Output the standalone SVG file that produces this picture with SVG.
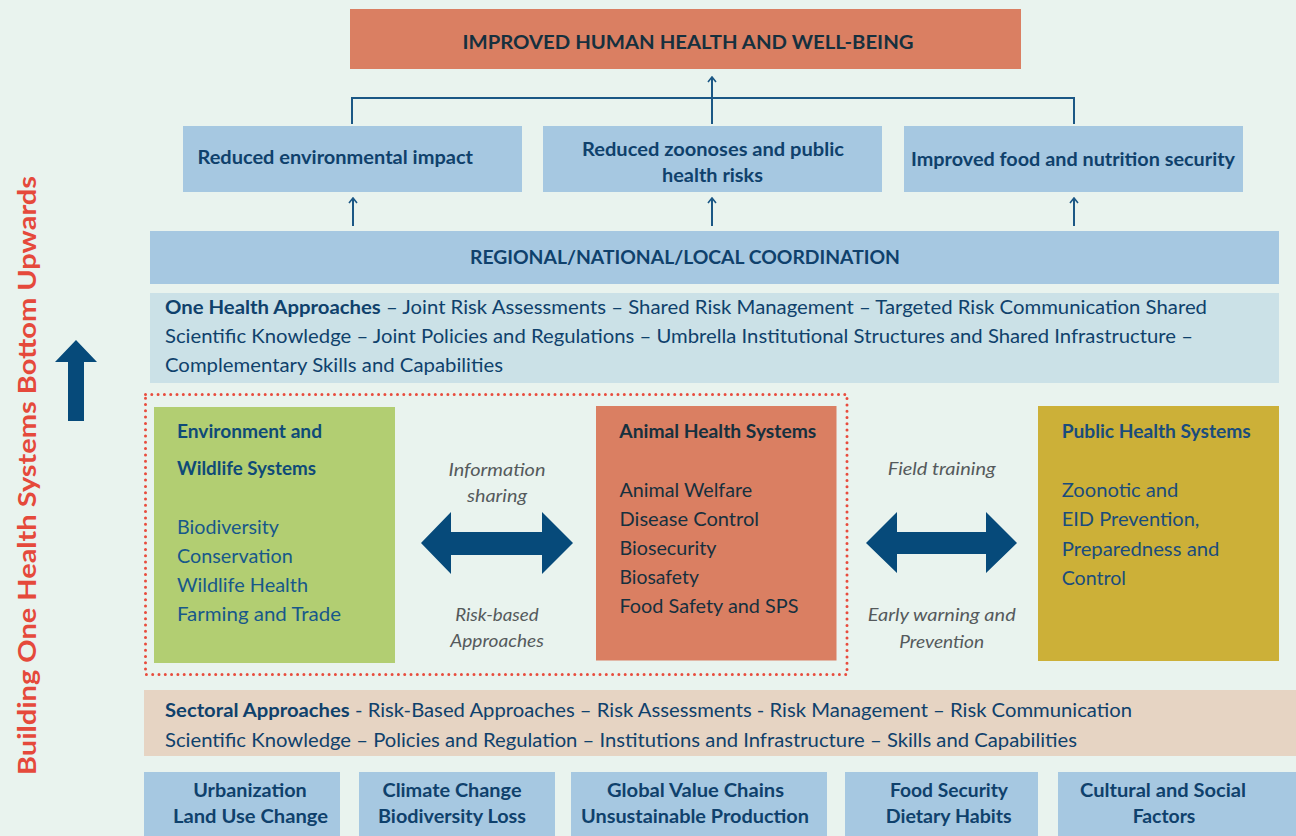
<svg xmlns="http://www.w3.org/2000/svg" width="1296" height="836" viewBox="0 0 1296 836">
<defs>
<style>
.t{font-family:Lato,"Open Sans","Liberation Sans",sans-serif}
.b{font-weight:bold}
.navy{fill:#0f416c}
.dark{fill:#16303e}
.blue{fill:#17588a}
.it{font-style:italic;fill:#555a5c;font-size:18px}
.box{fill:#a6c8e1}
.ln{stroke:#1b5785;stroke-width:2;fill:none}
.big{fill:#064a7a}
</style>
<marker id="ah" viewBox="0 0 10 10" refX="9" refY="5" markerWidth="10" markerHeight="10" markerUnits="userSpaceOnUse" orient="auto">
<path d="M4,1 L9,5 L4,9" fill="none" stroke="#1b5785" stroke-width="1.6"/>
</marker>
</defs>
<rect width="1296" height="836" fill="#e9f3ee"/>

<g id="side">
<text class="t b" font-size="25" fill="#e5493b" text-anchor="middle" textLength="599" lengthAdjust="spacingAndGlyphs" transform="translate(36,475.5) rotate(-90)">Building One Health Systems Bottom Upwards</text>
<polygon class="big" points="76,340 97,362 84,362 84,421 68,421 68,362 55,362"/>
</g>

<g id="goal">
<rect x="350" y="9" width="671" height="60" fill="#da7f62"/>
<text class="t b dark" font-size="19" x="688" y="49" text-anchor="middle" textLength="451" lengthAdjust="spacingAndGlyphs">IMPROVED HUMAN HEALTH AND WELL-BEING</text>
</g>

<g id="connectors">
<polyline class="ln" points="352,124 352,98 1074,98 1074,124"/>
<line class="ln" x1="712" y1="124" x2="712" y2="77" stroke-width="1.6" marker-end="url(#ah)"/>
<line class="ln" x1="353" y1="226" x2="353" y2="198" stroke-width="1.6" marker-end="url(#ah)"/>
<line class="ln" x1="712" y1="226" x2="712" y2="198" stroke-width="1.6" marker-end="url(#ah)"/>
<line class="ln" x1="1074" y1="226" x2="1074" y2="198" stroke-width="1.6" marker-end="url(#ah)"/>
<polygon class="big" points="421,543 451,512 451,532 542,532 542,512 573,543 542,574 542,555 451,555 451,574"/>
<polygon class="big" points="866,543 897,512 897,532 986,532 986,512 1017,543 986,573 986,554 897,554 897,573"/>
</g>

<g id="outcome1">
<rect class="box" x="183" y="126" width="339" height="66"/>
<text class="t b navy" font-size="18" x="197.5" y="164" textLength="275.5" lengthAdjust="spacingAndGlyphs">Reduced environmental impact</text>
</g>
<g id="outcome2">
<rect class="box" x="543" y="126" width="339" height="66"/>
<text class="t b navy" font-size="18" x="713" y="156" text-anchor="middle" textLength="262" lengthAdjust="spacingAndGlyphs">Reduced zoonoses and public</text>
<text class="t b navy" font-size="18" x="712.5" y="182" text-anchor="middle" textLength="101" lengthAdjust="spacingAndGlyphs">health risks</text>
</g>
<g id="outcome3">
<rect class="box" x="904" y="126" width="339" height="66"/>
<text class="t b navy" font-size="18" x="911" y="166" textLength="324" lengthAdjust="spacingAndGlyphs">Improved food and nutrition security</text>
</g>

<g id="coordination">
<rect class="box" x="150" y="231" width="1129" height="53"/>
<text class="t b navy" font-size="18" x="685" y="264" text-anchor="middle" textLength="430" lengthAdjust="spacingAndGlyphs">REGIONAL/NATIONAL/LOCAL COORDINATION</text>
</g>

<g id="onehealth">
<rect x="150" y="293" width="1129" height="90" fill="#cbe1e7"/>
<text class="t navy" font-size="18.5" x="165" y="314" textLength="1042" lengthAdjust="spacingAndGlyphs"><tspan class="b">One Health Approaches</tspan> – Joint Risk Assessments – Shared Risk Management – Targeted Risk Communication Shared</text>
<text class="t navy" font-size="18.5" x="165" y="343" textLength="1028" lengthAdjust="spacingAndGlyphs">Scientific Knowledge – Joint Policies and Regulations – Umbrella Institutional Structures and Shared Infrastructure –</text>
<text class="t navy" font-size="18.5" x="165" y="372" textLength="338" lengthAdjust="spacingAndGlyphs">Complementary Skills and Capabilities</text>
</g>

<rect x="145.5" y="394.5" width="701.5" height="280" fill="none" stroke="#e84c3d" stroke-width="3" stroke-dasharray="0 6.3" stroke-linecap="round"/>

<g id="environment">
<rect x="154" y="407" width="241" height="256" fill="#b2ce72"/>
<text class="t b" fill="#0f4a78" font-size="18" x="177" y="438" textLength="145" lengthAdjust="spacingAndGlyphs">Environment and</text>
<text class="t b" fill="#0f4a78" font-size="18" x="177" y="475" textLength="139" lengthAdjust="spacingAndGlyphs">Wildlife Systems</text>
<g class="t blue" font-size="19">
<text x="177" y="534" textLength="102" lengthAdjust="spacingAndGlyphs">Biodiversity</text>
<text x="177" y="563" textLength="115.7" lengthAdjust="spacingAndGlyphs">Conservation</text>
<text x="177" y="592" textLength="131" lengthAdjust="spacingAndGlyphs">Wildlife Health</text>
<text x="177" y="621" textLength="164" lengthAdjust="spacingAndGlyphs">Farming and Trade</text>
</g>
</g>

<g id="label1" class="t it" text-anchor="middle">
<text x="497" y="475.5" textLength="97" lengthAdjust="spacingAndGlyphs">Information</text>
<text x="497" y="502" textLength="60" lengthAdjust="spacingAndGlyphs">sharing</text>
<text x="497" y="620.5" textLength="83.6" lengthAdjust="spacingAndGlyphs">Risk-based</text>
<text x="497" y="647" textLength="93.7" lengthAdjust="spacingAndGlyphs">Approaches</text>
</g>

<g id="animal">
<rect x="596" y="406" width="240.5" height="254.5" fill="#da7f62"/>
<text class="t b dark" font-size="18" x="619.3" y="438.3" textLength="197" lengthAdjust="spacingAndGlyphs">Animal Health Systems</text>
<g class="t dark" font-size="19">
<text x="619.5" y="496.7" textLength="132.7" lengthAdjust="spacingAndGlyphs">Animal Welfare</text>
<text x="619.5" y="525.7" textLength="139.6" lengthAdjust="spacingAndGlyphs">Disease Control</text>
<text x="619.5" y="555" textLength="96.9" lengthAdjust="spacingAndGlyphs">Biosecurity</text>
<text x="619.5" y="584" textLength="79.4" lengthAdjust="spacingAndGlyphs">Biosafety</text>
<text x="619.5" y="613.3" textLength="179" lengthAdjust="spacingAndGlyphs">Food Safety and SPS</text>
</g>
</g>

<g id="label2" class="t it" text-anchor="middle">
<text x="941.7" y="475" textLength="108" lengthAdjust="spacingAndGlyphs">Field training</text>
<text x="941.7" y="620.7" textLength="148" lengthAdjust="spacingAndGlyphs">Early warning and</text>
<text x="941.7" y="647.7" textLength="85" lengthAdjust="spacingAndGlyphs">Prevention</text>
</g>

<g id="public">
<rect x="1038" y="406" width="241" height="255" fill="#ccb038"/>
<text class="t b" fill="#1a4c7c" font-size="18" x="1061.7" y="438.3" textLength="189" lengthAdjust="spacingAndGlyphs">Public Health Systems</text>
<g class="t" fill="#1a4c7c" font-size="19">
<text x="1061.7" y="496.7" textLength="116.7" lengthAdjust="spacingAndGlyphs">Zoonotic and</text>
<text x="1061.7" y="526" textLength="137.7" lengthAdjust="spacingAndGlyphs">EID Prevention,</text>
<text x="1061.7" y="555.7" textLength="157.7" lengthAdjust="spacingAndGlyphs">Preparedness and</text>
<text x="1061.7" y="585" textLength="64.3" lengthAdjust="spacingAndGlyphs">Control</text>
</g>
</g>

<g id="sectoral">
<rect x="144" y="690" width="1152" height="66" fill="#e6d4c3"/>
<text class="t navy" font-size="18.5" x="165" y="717.3" textLength="967" lengthAdjust="spacingAndGlyphs"><tspan class="b">Sectoral Approaches</tspan> - Risk-Based Approaches – Risk Assessments - Risk Management – Risk Communication</text>
<text class="t navy" font-size="18.5" x="165" y="746.7" textLength="912" lengthAdjust="spacingAndGlyphs">Scientific Knowledge – Policies and Regulation – Institutions and Infrastructure – Skills and Capabilities</text>
</g>

<g id="driver1">
<rect class="box" x="144" y="772" width="196" height="64"/>
<text class="t b navy" font-size="18.5" x="250" y="797.3" text-anchor="middle" textLength="113.6" lengthAdjust="spacingAndGlyphs">Urbanization</text>
<text class="t b navy" font-size="18.5" x="250.5" y="823.3" text-anchor="middle" textLength="155" lengthAdjust="spacingAndGlyphs">Land Use Change</text>
</g>
<g id="driver2">
<rect class="box" x="359" y="772" width="196" height="64"/>
<text class="t b navy" font-size="18.5" x="452" y="797.3" text-anchor="middle" textLength="139" lengthAdjust="spacingAndGlyphs">Climate Change</text>
<text class="t b navy" font-size="18.5" x="452" y="823.3" text-anchor="middle" textLength="148" lengthAdjust="spacingAndGlyphs">Biodiversity Loss</text>
</g>
<g id="driver3">
<rect class="box" x="571" y="772" width="256" height="64"/>
<text class="t b navy" font-size="18.5" x="695.5" y="797.3" text-anchor="middle" textLength="177" lengthAdjust="spacingAndGlyphs">Global Value Chains</text>
<text class="t b navy" font-size="18.5" x="695" y="823.3" text-anchor="middle" textLength="228" lengthAdjust="spacingAndGlyphs">Unsustainable Production</text>
</g>
<g id="driver4">
<rect class="box" x="845" y="772" width="193" height="64"/>
<text class="t b navy" font-size="18.5" x="949" y="797.3" text-anchor="middle" textLength="118" lengthAdjust="spacingAndGlyphs">Food Security</text>
<text class="t b navy" font-size="18.5" x="948.7" y="823.3" text-anchor="middle" textLength="126" lengthAdjust="spacingAndGlyphs">Dietary Habits</text>
</g>
<g id="driver5">
<rect class="box" x="1058" y="772" width="238" height="64"/>
<text class="t b navy" font-size="18.5" x="1163" y="797.3" text-anchor="middle" textLength="166" lengthAdjust="spacingAndGlyphs">Cultural and Social</text>
<text class="t b navy" font-size="18.5" x="1164" y="823.3" text-anchor="middle" textLength="62.7" lengthAdjust="spacingAndGlyphs">Factors</text>
</g>
</svg>
